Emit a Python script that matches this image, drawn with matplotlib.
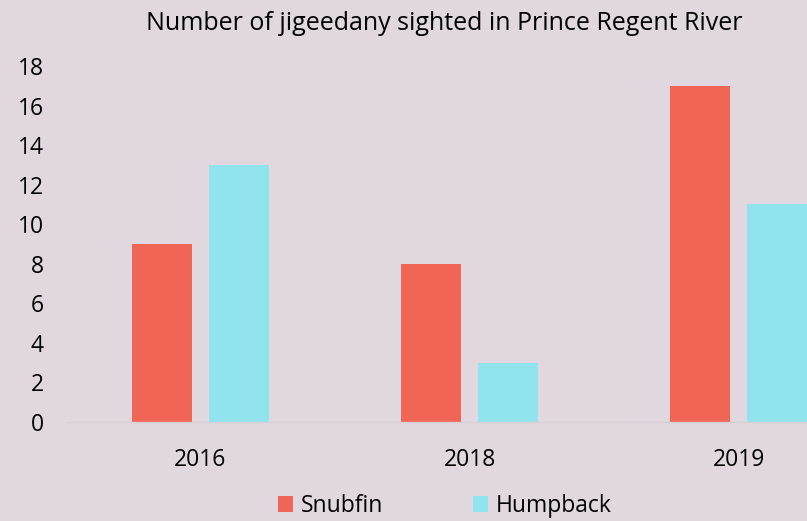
import matplotlib.pyplot as plt
import numpy as np

plt.rcParams['font.family'] = ['Open Sans', 'DejaVu Sans']

# data
years = ['2016', '2018', '2019']
snubfin = [9, 8, 17]
humpback = [13, 3, 11]
yticks = [0, 2, 4, 6, 8, 10, 12, 14, 16, 18]

bg = '#e1d8df'
red = '#f06555'
cyan = '#91e3ee'

W, H = 807, 521
fig = plt.figure(figsize=(W / 100, H / 100), dpi=100, facecolor=bg)

# plot area starts at x=66 px, categories are 269 px wide (last one runs off the edge)
left, cat_w = 66, 269
ax = fig.add_axes([left / W, 99 / H, (W - left) / W, 356 / H])
ax.set_facecolor(bg)

x = np.arange(len(years))
bw = 60 / cat_w
off = 38.5 / cat_w
ax.bar(x - off, snubfin, bw, color=red, label='Snubfin')
ax.bar(x + off, humpback, bw, color=cyan, label='Humpback')

ax.set_xlim(-0.5, -0.5 + (W - left) / cat_w)
ax.set_ylim(0, 18)
ax.set_yticks(yticks)
ax.set_xticks(x)
ax.set_xticklabels(years)

for s in ['top', 'right', 'left']:
    ax.spines[s].set_visible(False)
ax.spines['bottom'].set_color('#d4d0d4')
ax.spines['bottom'].set_linewidth(1)
ax.tick_params(axis='both', length=0, labelsize=16.5, colors='black')
ax.tick_params(axis='y', pad=16)
ax.tick_params(axis='x', pad=18.5)

fig.text(444 / W, 1 - 23 / H, 'Number of jigeedany sighted in Prince Regent River',
         ha='center', va='center', fontsize=18)

# legend sits right at the bottom edge, keep the text inside the figure
fig.legend(loc='center', bbox_to_anchor=(445 / W, 1 - 506 / H), ncol=2, frameon=False,
           fontsize=16.5, handlelength=0.65, handleheight=0.65, handletextpad=0.35,
           columnspacing=3.9, borderpad=0.1)

fig.savefig('out.png', dpi=100, facecolor=bg)
